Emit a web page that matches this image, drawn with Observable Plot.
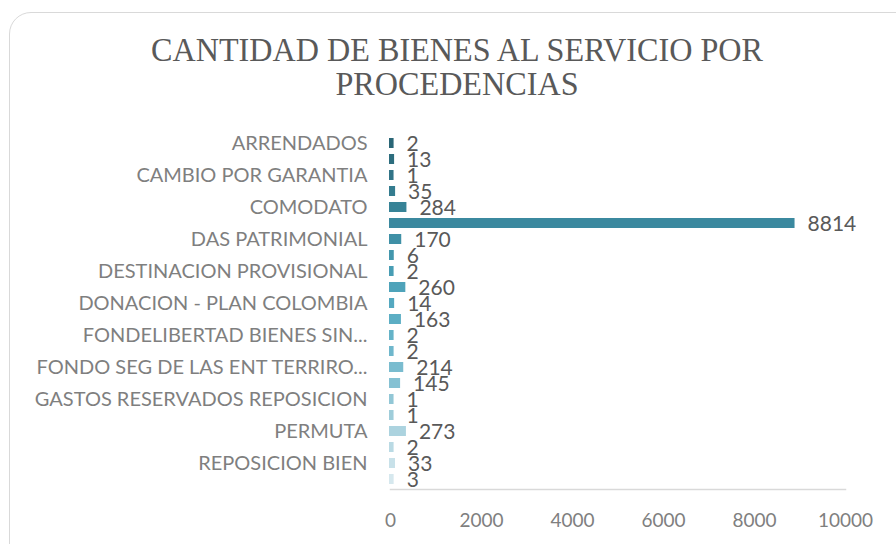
<!DOCTYPE html>
<html>
<head>
<meta charset="utf-8">
<script src="https://cdn.jsdelivr.net/npm/d3@7"></script>
<script src="https://cdn.jsdelivr.net/npm/@observablehq/plot@0.6"></script>
<style>
  html, body { margin: 0; padding: 0; background: #fff; overflow: hidden; }
  #wrap { position: relative; width: 896px; height: 544px; overflow: hidden; }
  #card { position: absolute; left: 9px; top: 12px; width: 920px; height: 560px;
          border: 1.5px solid #d9d9d9; border-radius: 22px; box-sizing: border-box; }
  #title { position: absolute; left: 0; top: 33px; width: 914px; text-align: center;
           font-family: "Liberation Serif", "DejaVu Serif", serif; font-size: 33px;
           line-height: 34px; color: #595959; transform: scaleX(0.975); transform-origin: 457px 0; }
  #chart { position: absolute; left: 0; top: 120px; }
</style>
</head>
<body>
<div id="wrap">
  <div id="card"></div>
  <div id="title">CANTIDAD DE BIENES AL SERVICIO POR<br>PROCEDENCIAS</div>
  <div id="chart"></div>
</div>
<script>
// Category labels (only every other category label is shown on the axis)
const categoryLabels = [
  "ARRENDADOS", "", "CAMBIO POR GARANTIA", "", "COMODATO", "",
  "DAS PATRIMONIAL", "", "DESTINACION PROVISIONAL", "", "DONACION - PLAN COLOMBIA", "",
  "FONDELIBERTAD BIENES SIN...", "", "FONDO SEG DE LAS ENT TERRIRO...", "",
  "GASTOS RESERVADOS REPOSICION", "", "PERMUTA", "", "REPOSICION BIEN", ""
];
const values = [2, 13, 1, 35, 284, 8814, 170, 6, 2, 260, 14, 163, 2, 2, 214, 145, 1, 1, 273, 2, 33, 3];
const xTicks = [0, 2000, 4000, 6000, 8000, 10000];

const data = values.map((v, i) => ({idx: i, label: categoryLabels[i], value: v}));
const colorAt = d3.interpolateRgbBasis(["#2a6676", "#3b8ca2", "#52adc6", "#8cc3d3", "#d6e8ee"]);

const plot = Plot.plot({
  width: 896,
  height: 424,
  marginTop: 13,
  marginBottom: 55,
  marginLeft: 390,
  marginRight: 51,
  style: {background: "transparent", fontFamily: "Lato, 'Open Sans', sans-serif"},
  x: {domain: [0, 10000], ticks: xTicks, label: null},
  y: {domain: data.map(d => d.idx), label: null, paddingInner: 0.38, paddingOuter: 0.19},
  marks: [
    Plot.frame({anchor: "bottom", stroke: "#d9d9d9", strokeWidth: 1.5}),
    Plot.barX(data, {x: "value", y: "idx", insetLeft: -1, insetRight: -3.5,
                     fill: d => colorAt(d.idx / (values.length - 1))}),
    Plot.text(data, {x: "value", y: "idx", text: d => String(d.value), textAnchor: "start",
                     dx: 16, dy: 1, fontSize: 21, fill: "#595959"}),
    Plot.axisY({tickSize: 0, tickPadding: 23, fontSize: 20, color: "#7f7f7f",
                tickFormat: i => categoryLabels[i]}),
    Plot.axisX({ticks: xTicks, tickSize: 0, tickPadding: 24, fontSize: 19, color: "#7f7f7f",
                tickFormat: d => String(d)})
  ]
});
document.getElementById("chart").appendChild(plot);
</script>
</body>
</html>
